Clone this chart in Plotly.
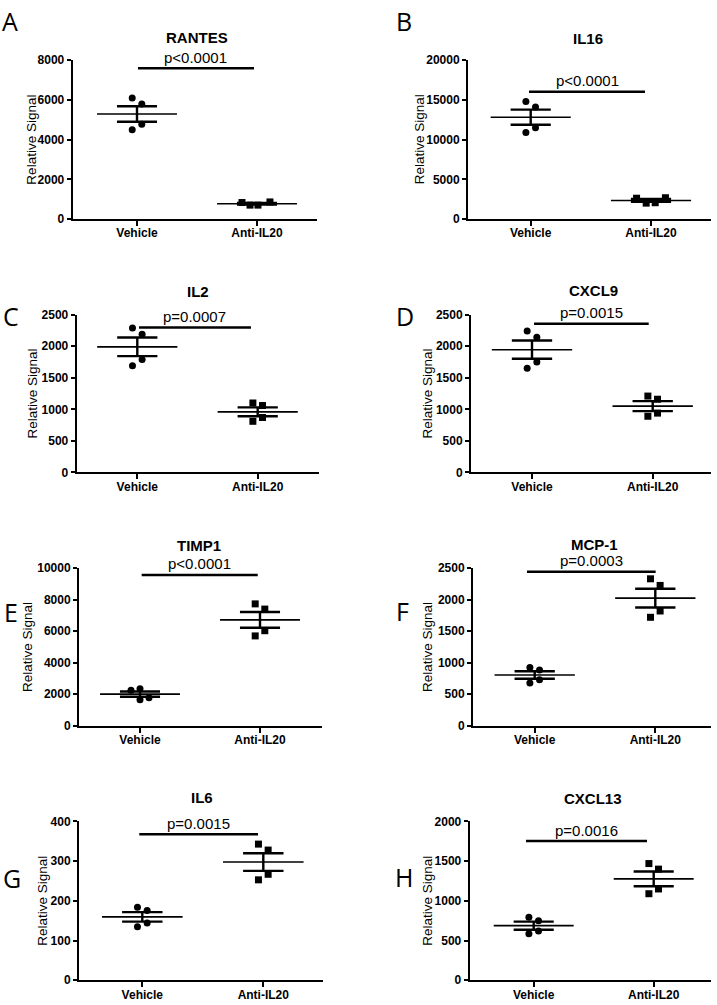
import numpy as np
import plotly.graph_objects as go

W, H = 717, 1005

# ---------------- data ----------------
panel_letters = ["A", "B", "C", "D", "E", "F", "G", "H"]
analytes = ["RANTES", "IL16", "IL2", "CXCL9", "TIMP1", "MCP-1", "IL6", "CXCL13"]
groups = ["Vehicle", "Anti-IL20"]
p_values = ["p<0.0001", "p<0.0001", "p=0.0007", "p=0.0015",
            "p<0.0001", "p=0.0003", "p=0.0015", "p=0.0016"]

vehicle_rantes = [6100, 5800, 4770, 4500]
vehicle_il16 = [14800, 14100, 11500, 10900]
vehicle_il2 = [2290, 2190, 1790, 1690]
vehicle_cxcl9 = [2240, 2140, 1750, 1650]
vehicle_timp1 = [2250, 2350, 1660, 1780]
vehicle_mcp1 = [925, 885, 730, 680]
vehicle_il6 = [184, 176, 144, 135]
vehicle_cxcl13 = [795, 750, 620, 585]

anti_rantes = [830, 700, 700, 860]
anti_il16 = [2620, 2000, 2050, 2680]
anti_il2 = [1100, 1060, 870, 810]
anti_cxcl9 = [1210, 1160, 940, 890]
anti_timp1 = [7730, 7400, 6030, 5700]
anti_mcp1 = [2330, 2225, 1820, 1720]
anti_il6 = [343, 328, 267, 253]
anti_cxcl13 = [1470, 1400, 1150, 1090]

vehicle = [vehicle_rantes, vehicle_il16, vehicle_il2, vehicle_cxcl9,
           vehicle_timp1, vehicle_mcp1, vehicle_il6, vehicle_cxcl13]
anti = [anti_rantes, anti_il16, anti_il2, anti_cxcl9,
        anti_timp1, anti_mcp1, anti_il6, anti_cxcl13]

y_max = [8000, 20000, 2500, 2500, 10000, 2500, 400, 2000]
y_step = [2000, 5000, 500, 500, 2000, 500, 100, 500]

# ---------------- layout / positions (pixels) ----------------
# left axis px, vehicle px, anti px, right px
geom_x = [(72.7, 137, 257, 317), (468, 530.7, 651, 711),
          (76.7, 137.3, 257.7, 319), (471, 532, 652.7, 711),
          (79, 140, 260, 321.7), (473, 534.7, 655.3, 711),
          (79, 142.3, 263.3, 323), (469.7, 533.7, 653.7, 711)]
row_top = [54, 54, 312, 312, 569, 569, 826, 826]
row_bot = [215, 215, 472, 472, 729, 729, 987, 987]

sig_bar_y = [7600, 16030, 2297, 2355, 9563, 2442, 368, 1754]
sig_bar_x = [(0.008, 0.975), (-0.014, 0.95), (0.014, 0.944), (0.017, 0.967),
             (0.014, 0.981), (-0.064, 1.003), (-0.025, 0.956), (-0.064, 0.944)]

jit_std = [-0.04, 0.04, 0.04, -0.04]
veh_jit = [jit_std, jit_std, jit_std, jit_std, [-0.075, 0, 0, 0.075], jit_std, jit_std, jit_std]
anti_jit = [[-0.125, -0.058, 0.008, 0.108], [-0.12, -0.04, 0.035, 0.12],
            jit_std, jit_std, jit_std, jit_std, jit_std, jit_std]

title_pos = [(197, 31), (588, 32), (198, 289), (593, 288),
             (199, 546), (594, 545), (202, 802), (593, 803)]
letter_pos = [(10, 14), (404, 14), (11, 313), (405, 313),
              (11, 614), (402, 613), (12, 883), (404, 882)]
ylab_x = [32, 419.7, 33, 428, 28, 428, 43, 428]

FONT = "Liberation Sans, Arial, sans-serif"

fig = go.Figure()
annotations = []
layout_axes = {}

for i in range(8):
    n = "" if i == 0 else str(i + 1)
    xa, ya = "x" + n, "y" + n
    left, pv, pa, right = geom_x[i]
    sp = pa - pv
    xr = [(left - pv) / sp, (right - pv) / sp]
    layout_axes["xaxis" + n] = dict(
        domain=[left / W, right / W], range=xr, anchor=ya,
        tickvals=[0, 1], ticktext=groups, showgrid=False, zeroline=False,
        showline=True, linecolor="black", linewidth=2,
        ticks="outside", ticklen=5, tickwidth=2, tickcolor="black",
        ticklabelstandoff=-3,
        tickfont=dict(family=FONT, size=12, color="black", weight="bold"),
        fixedrange=True)
    layout_axes["yaxis" + n] = dict(
        domain=[1 - row_bot[i] / H, 1 - row_top[i] / H], range=[0, y_max[i]],
        anchor=xa, tickmode="linear", tick0=0, dtick=y_step[i], tickformat="d",
        showgrid=False, zeroline=False, showline=True, linecolor="black",
        linewidth=2, ticks="outside", ticklen=4, tickwidth=2, tickcolor="black",
        tickfont=dict(family=FONT, size=12, color="black", weight="bold"),
        fixedrange=True)

    for gi, (vals, jit, sym) in enumerate([(vehicle[i], veh_jit[i], "circle"),
                                           (anti[i], anti_jit[i], "square")]):
        vals = np.array(vals, dtype=float)
        m = vals.mean()
        s = vals.std(ddof=1) / np.sqrt(len(vals))
        # mean line
        fig.add_trace(go.Scatter(x=[gi - 0.333, gi + 0.333], y=[m, m], mode="lines",
                                 line=dict(color="black", width=1.6),
                                 xaxis=xa, yaxis=ya, showlegend=False, hoverinfo="skip"))
        # SEM
        fig.add_trace(go.Scatter(
            x=[gi - 0.167, gi + 0.167, None, gi - 0.167, gi + 0.167, None, gi, gi],
            y=[m + s, m + s, None, m - s, m - s, None, m - s, m + s], mode="lines",
            line=dict(color="black", width=2.4),
            xaxis=xa, yaxis=ya, showlegend=False, hoverinfo="skip"))
        # points
        fig.add_trace(go.Scatter(x=[gi + j for j in jit], y=vals, mode="markers",
                                 marker=dict(symbol=sym, size=7, color="black",
                                             line=dict(width=0)),
                                 xaxis=xa, yaxis=ya, showlegend=False,
                                 cliponaxis=False))

    # significance bar
    bx0, bx1 = sig_bar_x[i]
    fig.add_trace(go.Scatter(x=[bx0, bx1], y=[sig_bar_y[i], sig_bar_y[i]], mode="lines",
                             line=dict(color="black", width=2.6),
                             xaxis=xa, yaxis=ya, showlegend=False, hoverinfo="skip"))
    annotations.append(dict(x=(bx0 + bx1) / 2, y=sig_bar_y[i], xref=xa, yref=ya,
                            text=p_values[i], showarrow=False, yshift=11,
                            xanchor="center", yanchor="middle",
                            font=dict(family=FONT, size=15, color="black")))
    # title
    tx, ty = title_pos[i]
    annotations.append(dict(x=tx / W, y=1 - ty / H, xref="paper", yref="paper",
                            text="<b>" + analytes[i] + "</b>", showarrow=False,
                            xanchor="center", yanchor="middle",
                            font=dict(family=FONT, size=15, color="black")))
    # panel letter
    lx, ly = letter_pos[i]
    annotations.append(dict(x=lx / W, y=1 - ly / H, xref="paper", yref="paper",
                            text=panel_letters[i], showarrow=False,
                            xanchor="center", yanchor="middle",
                            font=dict(family="Open Sans, DejaVu Sans, sans-serif",
                                      size=25, color="black")))
    # y-axis title
    annotations.append(dict(x=ylab_x[i] / W, y=1 - (row_top[i] + row_bot[i]) / 2 / H,
                            xref="paper", yref="paper", text="Relative Signal",
                            textangle=-90, showarrow=False,
                            xanchor="center", yanchor="middle",
                            font=dict(family=FONT, size=13.5, color="black")))

fig.update_layout(width=W, height=H, margin=dict(l=0, r=0, t=0, b=0),
                  paper_bgcolor="white", plot_bgcolor="white",
                  annotations=annotations, showlegend=False, **layout_axes)

fig.write_html("out.html", config={"displayModeBar": False},
               post_script="document.body.style.margin='0px';"
                           "document.body.style.overflow='hidden';")
